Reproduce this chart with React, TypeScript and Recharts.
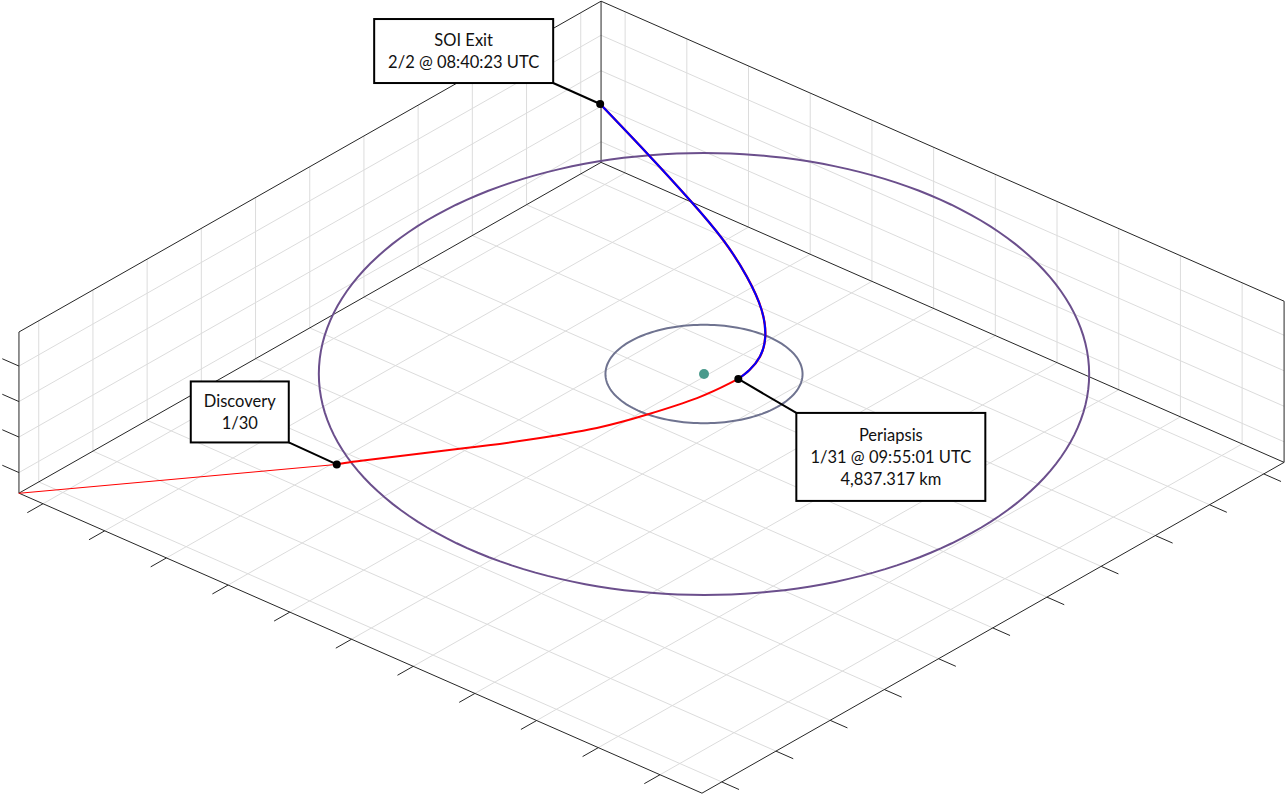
import { ComposedChart, Line, ReferenceLine, Scatter, XAxis, YAxis } from "recharts";

// hyperbolic flyby, world units with the planet at the origin
const trajX = [-6.39, -2.93, -2.66, -1.63, -0.96, -0.34, 0.05, 0.37, 0.5, 0.53, 0.5, 0.38, 0.07, -0.48, -1.3, -2.29, -3.46, -4.89, -6.4];
const trajY = [-5.37, -3.44, -3.26, -2.58, -2.12, -1.59, -1.12, -0.55, -0.09, 0.03, 0.27, 0.6, 1.05, 1.61, 2.27, 2.96, 3.68, 4.51, 5.37];
const trajZ = [-1.79, -0.9, -0.82, -0.55, -0.37, -0.2, -0.07, 0.04, 0.1, 0.12, 0.13, 0.13, 0.09, 0.02, -0.11, -0.27, -0.47, -0.71, -0.97];

const DISCOVERY_IDX = 1;
const PERIAPSIS_IDX = 9;
const SOI_EXIT_IDX = 18;

const annotationIdx = [DISCOVERY_IDX, PERIAPSIS_IDX, SOI_EXIT_IDX];
const annotationText = [
  ["Discovery", "1/30"],
  ["Periapsis", "1/31 @ 09:55:01 UTC", "4,837.317 km"],
  ["SOI Exit", "2/2 @ 08:40:23 UTC"],
];

// circles around the planet
const SOI_RADIUS = 1.2;
const MOON_ORBIT_RADIUS = 4.69;
const MOON_ORBIT_TILT_DEG = 5.05;

// axes
const X_LIM = [-6.39, 4.68];
const Y_LIM = [-5.365, 5.375];
const Z_LIM = [-1.79, 0.48];
const X_TICKS = [-6, -5, -4, -3, -2, -1, 0, 1, 2, 3, 4];
const Y_TICKS = [-5, -4, -3, -2, -1, 0, 1, 2, 3, 4, 5];
const Z_TICKS = [-1.5, -1, -0.5, 0];

// ---- view (orthographic, az ~41deg, el 30deg) ----
const W = 1285;
const H = 794;
const VIEW = { ox: 704, oy: 374, ux: 61.7, uy: 27.1, vx: 54.2, vy: -30.8, zy: -71 };

type P3 = [number, number, number];
const project = ([x, y, z]: P3) => ({
  sx: VIEW.ox + VIEW.ux * x + VIEW.vx * y,
  sy: VIEW.oy + VIEW.uy * x + VIEW.vy * y + VIEW.zy * z,
});

const trajPts = trajX.map((x, i) => project([x, trajY[i], trajZ[i]]));
const preDiscovery = trajPts.slice(0, DISCOVERY_IDX + 1);
const inbound = trajPts.slice(DISCOVERY_IDX, PERIAPSIS_IDX + 1);
const outbound = trajPts.slice(PERIAPSIS_IDX);

// horizontal direction that lies flat on screen, and the one pointing away
const hLen = Math.hypot(-VIEW.vy, VIEW.uy);
const hx = -VIEW.vy / hLen;
const hy = VIEW.uy / hLen;

function circlePts(r: number, tiltDeg: number) {
  const t = (tiltDeg * Math.PI) / 180;
  const pts = [];
  for (let k = 0; k <= 180; k++) {
    const a = (k / 180) * Math.PI * 2;
    const c = r * Math.cos(a);
    const s = r * Math.sin(a);
    pts.push(project([c * hx - s * Math.cos(t) * hy, c * hy + s * Math.cos(t) * hx, s * Math.sin(t)]));
  }
  return pts;
}
const soiCircle = circlePts(SOI_RADIUS, 0);
const moonOrbit = circlePts(MOON_ORBIT_RADIUS, MOON_ORBIT_TILT_DEG);

// ---- box, grid, ticks ----
const [x0, x1] = X_LIM;
const [y0, y1] = Y_LIM;
const [z0, z1] = Z_LIM;

const gridSegs: [P3, P3][] = [
  ...X_TICKS.map((x): [P3, P3] => [[x, y0, z0], [x, y1, z0]]),
  ...Y_TICKS.map((y): [P3, P3] => [[x0, y, z0], [x1, y, z0]]),
  ...Y_TICKS.map((y): [P3, P3] => [[x0, y, z0], [x0, y, z1]]),
  ...Z_TICKS.map((z): [P3, P3] => [[x0, y0, z], [x0, y1, z]]),
  ...X_TICKS.map((x): [P3, P3] => [[x, y1, z0], [x, y1, z1]]),
  ...Z_TICKS.map((z): [P3, P3] => [[x0, y1, z], [x1, y1, z]]),
];

const boxSegs: [P3, P3][] = [
  [[x0, y0, z0], [x1, y0, z0]],
  [[x1, y0, z0], [x1, y1, z0]],
  [[x0, y0, z0], [x0, y1, z0]],
  [[x0, y1, z0], [x1, y1, z0]],
  [[x0, y0, z0], [x0, y0, z1]],
  [[x0, y1, z0], [x0, y1, z1]],
  [[x1, y1, z0], [x1, y1, z1]],
  [[x0, y0, z1], [x0, y1, z1]],
  [[x0, y1, z1], [x1, y1, z1]],
  ...X_TICKS.map((x): [P3, P3] => [[x, y0, z0], [x, y0 - 0.29, z0]]),
  ...Y_TICKS.map((y): [P3, P3] => [[x1, y, z0], [x1 + 0.28, y, z0]]),
  ...Z_TICKS.map((z): [P3, P3] => [[x0, y0, z], [x0 - 0.27, y0, z]]),
];

const toSegment = ([a, b]: [P3, P3]) => {
  const p = project(a);
  const q = project(b);
  return [
    { x: p.sx, y: p.sy },
    { x: q.sx, y: q.sy },
  ];
};

// label box placement relative to its point: dx, dy, width, height, leader corner
const LABEL_BOX = [
  { dx: -146, dy: -83, w: 98, h: 61, corner: "br" },
  { dx: 58, dy: 34, w: 189, h: 88, corner: "tl" },
  { dx: -226, dy: -85, w: 179, h: 64, corner: "br" },
];

const annotations = annotationIdx.map((idx, i) => ({
  ...trajPts[idx],
  lines: annotationText[i],
  box: LABEL_BOX[i],
}));

const planet = [project([0, 0, 0])];

function Annotation(props: any) {
  const { cx, cy, payload } = props;
  const { dx, dy, w, h, corner } = payload.box;
  const bx = cx + dx;
  const by = cy + dy;
  const lx = corner === "br" ? bx + w : bx;
  const ly = corner === "br" ? by + h : by;
  const lines: string[] = payload.lines;
  const lh = 22;
  const first = by + h / 2 - ((lines.length - 1) * lh) / 2;
  return (
    <g>
      <line x1={lx} y1={ly} x2={cx} y2={cy} stroke="#000" strokeWidth={2} />
      <rect x={bx} y={by} width={w} height={h} fill="#fff" stroke="#000" strokeWidth={2} />
      {lines.map((t, k) => (
        <text
          key={k}
          x={bx + w / 2}
          y={first + k * lh}
          textAnchor="middle"
          dominantBaseline="central"
          fontFamily="Lato, 'Open Sans', sans-serif"
          fontSize={16.5}
          fill="#111"
        >
          {t}
        </text>
      ))}
      <circle cx={cx} cy={cy} r={4} fill="#000" />
    </g>
  );
}

export default function App() {
  return (
    <div style={{ position: "absolute", left: 0, top: 0, width: W, height: H, background: "#fff" }}>
      <ComposedChart width={W} height={H} margin={{ top: 0, right: 0, bottom: 0, left: 0 }}>
        <XAxis type="number" dataKey="sx" domain={[0, W]} hide allowDataOverflow />
        <YAxis type="number" dataKey="sy" domain={[0, H]} reversed hide allowDataOverflow />
        {gridSegs.map((s, i) => (
          <ReferenceLine key={`g${i}`} segment={toSegment(s)} stroke="#dcdcdc" strokeWidth={1} ifOverflow="visible" />
        ))}
        {boxSegs.map((s, i) => (
          <ReferenceLine key={`b${i}`} segment={toSegment(s)} stroke="#262626" strokeWidth={1} ifOverflow="visible" />
        ))}
        <Line data={moonOrbit} dataKey="sy" stroke="#6b4f8c" strokeWidth={2} dot={false} activeDot={false} isAnimationActive={false} />
        <Line data={soiCircle} dataKey="sy" stroke="#6f7390" strokeWidth={2} dot={false} activeDot={false} isAnimationActive={false} />
        <Line data={preDiscovery} dataKey="sy" stroke="#ff0000" strokeWidth={1} dot={false} activeDot={false} isAnimationActive={false} />
        <Line type="natural" data={inbound} dataKey="sy" stroke="#ff0000" strokeWidth={2} dot={false} activeDot={false} isAnimationActive={false} />
        <Line type="natural" data={outbound} dataKey="sy" stroke="#ff0000" strokeWidth={2.3} dot={false} activeDot={false} isAnimationActive={false} />
        <Line type="natural" data={outbound} dataKey="sy" stroke="#0000ff" strokeWidth={2} dot={false} activeDot={false} isAnimationActive={false} />
        <Scatter data={planet} fill="#4a9a8c" shape={(p: any) => <circle cx={p.cx} cy={p.cy} r={5} fill="#4a9a8c" />} isAnimationActive={false} />
        <Scatter data={annotations} shape={(p: any) => <Annotation {...p} />} isAnimationActive={false} />
      </ComposedChart>
    </div>
  );
}
